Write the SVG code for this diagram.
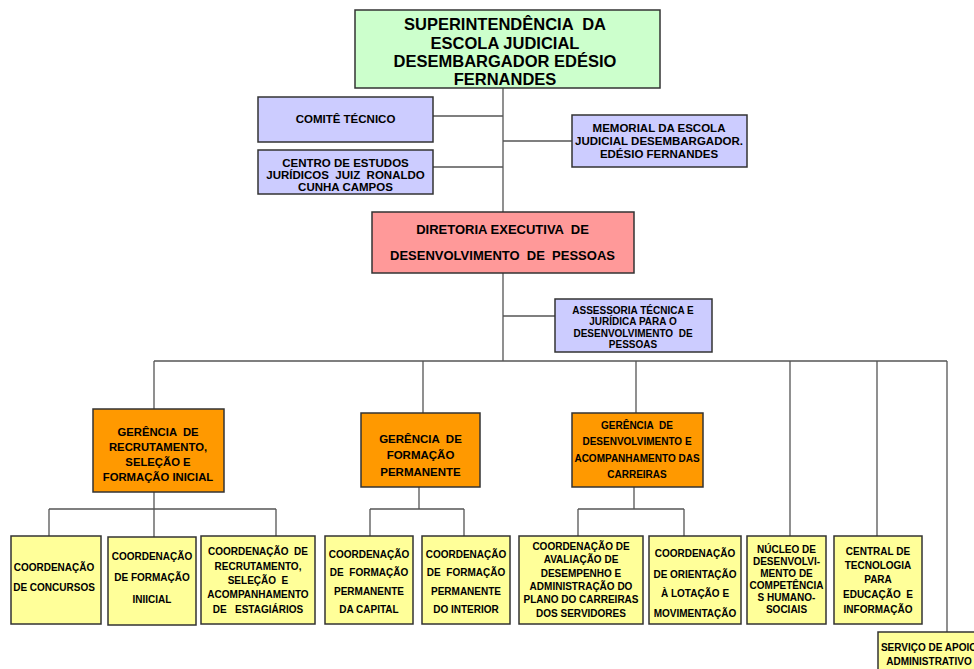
<svg xmlns="http://www.w3.org/2000/svg" width="974" height="669" viewBox="0 0 974 669" xml:space="preserve">
<style>
.box{stroke:#333;stroke-width:1.5}
.g{fill:#ccffcc}.p{fill:#ccccff}.r{fill:#ff9999}.o{fill:#ff9900}.y{fill:#ffff99}
text{font-family:"Liberation Sans",Arial,sans-serif;font-weight:bold;fill:#000;text-anchor:middle;white-space:pre}
.t17{font-size:16.5px}.t13{font-size:13px}.t11{font-size:11.5px}.t10{font-size:10px}
.ln{stroke:#555;stroke-width:1.3;fill:none}
</style>
<rect width="974" height="669" fill="#fff"/>
<g id="connectors">
<path class="ln" d="M503 88V212M433 116H503M433 167H503M503 141H572M503 273V361M503 316H555"/>
<path class="ln" d="M154 361H947M154 361V409M423 361V413M636 361V413M790 361V536M877 361V536M947 361V632"/>
<path class="ln" d="M154 492V537M49 509H276M49 509V536M276 509V536"/>
<path class="ln" d="M419 487V509M370 509H464M370 509V536M464 509V536"/>
<path class="ln" d="M634 487V509M578 509H684M578 509V536M684 509V536"/>
</g>
<g id="superintendencia">
<rect class="box g" x="355" y="10" width="305" height="78"/>
<text class="t17" x="505" y="30">SUPERINTENDÊNCIA  DA</text>
<text class="t17" x="505" y="49">ESCOLA JUDICIAL</text>
<text class="t17" x="505" y="67">DESEMBARGADOR EDÉSIO</text>
<text class="t17" x="505" y="85">FERNANDES</text>
</g>
<g id="comite">
<rect class="box p" x="258" y="97" width="175" height="45"/>
<text class="t11" x="345.5" y="123">COMITÊ TÉCNICO</text>
</g>
<g id="centro">
<rect class="box p" x="258" y="150" width="175" height="44"/>
<text class="t11" x="345.5" y="167">CENTRO DE ESTUDOS</text>
<text class="t11" x="345.5" y="179">JURÍDICOS  JUIZ  RONALDO</text>
<text class="t11" x="345.5" y="191">CUNHA CAMPOS</text>
</g>
<g id="memorial">
<rect class="box p" x="572" y="115" width="175" height="52"/>
<text class="t11" x="659" y="132">MEMORIAL DA ESCOLA</text>
<text class="t11" x="659" y="145">JUDICIAL DESEMBARGADOR.</text>
<text class="t11" x="659" y="158">EDÉSIO FERNANDES</text>
</g>
<g id="diretoria">
<rect class="box r" x="372" y="212" width="262" height="61"/>
<text class="t13" x="502.5" y="233.5">DIRETORIA EXECUTIVA  DE</text>
<text class="t13" x="502.5" y="260">DESENVOLVIMENTO  DE  PESSOAS</text>
</g>
<g id="assessoria">
<rect class="box p" x="555" y="299" width="157" height="53"/>
<text class="t10" x="633" y="314">ASSESSORIA TÉCNICA E</text>
<text class="t10" x="633" y="325">JURÍDICA PARA O</text>
<text class="t10" x="633" y="337">DESENVOLVIMENTO  DE</text>
<text class="t10" x="633" y="348">PESSOAS</text>
</g>
<g id="gerencia-recrutamento">
<rect class="box o" x="93" y="409" width="131" height="83"/>
<text class="t11" x="158" y="436" style="font-size:11.3px">GERÊNCIA  DE</text>
<text class="t11" x="158" y="451" style="font-size:11.3px">RECRUTAMENTO,</text>
<text class="t11" x="158" y="466" style="font-size:11.3px">SELEÇÃO E</text>
<text class="t11" x="158" y="481" style="font-size:11.3px">FORMAÇÃO INICIAL</text>
</g>
<g id="gerencia-formacao">
<rect class="box o" x="361" y="413" width="119" height="74"/>
<text class="t11" x="420.5" y="443">GERÊNCIA  DE</text>
<text class="t11" x="420.5" y="459">FORMAÇÃO</text>
<text class="t11" x="420.5" y="476">PERMANENTE</text>
</g>
<g id="gerencia-desenvolvimento">
<rect class="box o" x="572" y="413" width="131" height="74"/>
<text class="t10" x="637" y="429">GERÊNCIA  DE</text>
<text class="t10" x="637" y="445">DESENVOLVIMENTO E</text>
<text class="t10" x="637" y="462">ACOMPANHAMENTO DAS</text>
<text class="t10" x="637" y="478">CARREIRAS</text>
</g>
<g id="coord-concursos">
<rect class="box y" x="11" y="536" width="90" height="88"/>
<text class="t10" x="54" y="571">COORDENAÇÃO</text>
<text class="t10" x="54" y="591">DE CONCURSOS</text>
</g>
<g id="coord-formacao-inicial">
<rect class="box y" x="108" y="537" width="88" height="88"/>
<text class="t10" x="152" y="560">COORDENAÇÃO</text>
<text class="t10" x="152" y="581">DE FORMAÇÃO</text>
<text class="t10" x="152" y="603">INIICIAL</text>
</g>
<g id="coord-recrutamento">
<rect class="box y" x="201" y="536" width="114" height="88"/>
<text class="t10" x="258" y="555">COORDENAÇÃO  DE</text>
<text class="t10" x="258" y="570">RECRUTAMENTO,</text>
<text class="t10" x="258" y="584">SELEÇÃO  E</text>
<text class="t10" x="258" y="598">ACOMPANHAMENTO</text>
<text class="t10" x="258" y="613">DE   ESTAGIÁRIOS</text>
</g>
<g id="coord-capital">
<rect class="box y" x="325" y="536" width="88" height="88"/>
<text class="t10" x="369" y="558">COORDENAÇÃO</text>
<text class="t10" x="369" y="576">DE  FORMAÇÃO</text>
<text class="t10" x="369" y="595">PERMANENTE</text>
<text class="t10" x="369" y="613">DA CAPITAL</text>
</g>
<g id="coord-interior">
<rect class="box y" x="422" y="536" width="88" height="88"/>
<text class="t10" x="466" y="558">COORDENAÇÃO</text>
<text class="t10" x="466" y="576">DE  FORMAÇÃO</text>
<text class="t10" x="466" y="595">PERMANENTE</text>
<text class="t10" x="466" y="613">DO INTERIOR</text>
</g>
<g id="coord-avaliacao">
<rect class="box y" x="519" y="536" width="124" height="88"/>
<text class="t10" x="581" y="550">COORDENAÇÃO DE</text>
<text class="t10" x="581" y="563">AVALIAÇÃO DE</text>
<text class="t10" x="581" y="577">DESEMPENHO E</text>
<text class="t10" x="581" y="590">ADMINISTRAÇÃO DO</text>
<text class="t10" x="581" y="603">PLANO DO CARREIRAS</text>
<text class="t10" x="581" y="617">DOS SERVIDORES</text>
</g>
<g id="coord-orientacao">
<rect class="box y" x="649" y="536" width="92" height="88"/>
<text class="t10" x="695" y="557">COORDENAÇÃO</text>
<text class="t10" x="695" y="578">DE ORIENTAÇÃO</text>
<text class="t10" x="695" y="597">À LOTAÇÃO E</text>
<text class="t10" x="695" y="617">MOVIMENTAÇÃO</text>
</g>
<g id="nucleo">
<rect class="box y" x="747" y="536" width="79" height="88"/>
<text class="t10" x="786.5" y="553">NÚCLEO DE</text>
<text class="t10" x="786.5" y="565">DESENVOLVI-</text>
<text class="t10" x="786.5" y="577">MENTO DE</text>
<text class="t10" x="786.5" y="589">COMPETÊNCIA</text>
<text class="t10" x="786.5" y="601">S HUMANO-</text>
<text class="t10" x="786.5" y="613">SOCIAIS</text>
</g>
<g id="central">
<rect class="box y" x="834" y="536" width="88" height="88"/>
<text class="t10" x="878" y="555">CENTRAL DE</text>
<text class="t10" x="878" y="569">TECNOLOGIA</text>
<text class="t10" x="878" y="583">PARA</text>
<text class="t10" x="878" y="598">EDUCAÇÃO  E</text>
<text class="t10" x="878" y="613">INFORMAÇÃO</text>
</g>
<g id="servico">
<rect class="box y" x="878" y="632" width="104" height="50"/>
<text class="t10" x="929" y="651">SERVIÇO DE APOIO</text>
<text class="t10" x="929" y="665">ADMINISTRATIVO</text>
</g>
</svg>
